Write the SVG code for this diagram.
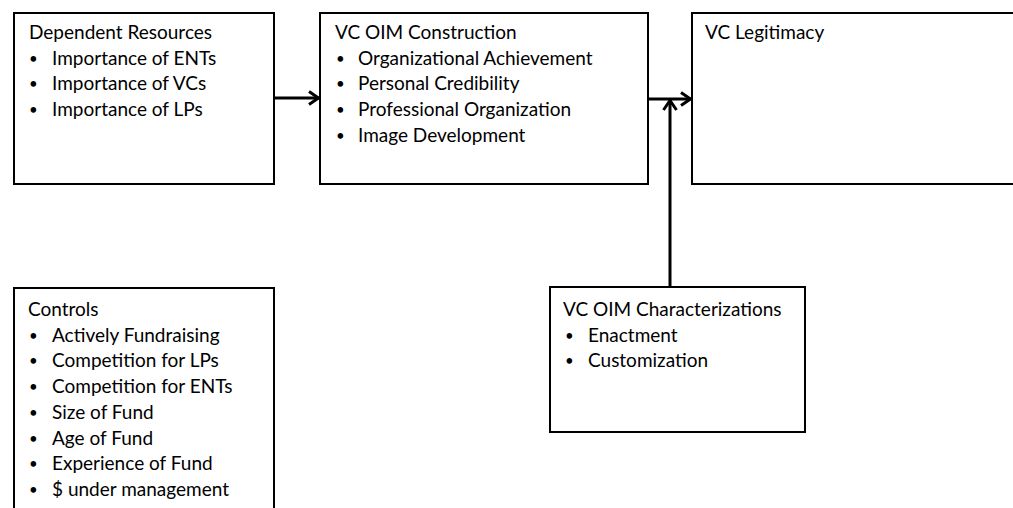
<svg xmlns="http://www.w3.org/2000/svg" width="1013" height="508" viewBox="0 0 1013 508">
<style>
.box{fill:#fff;stroke:#000;stroke-width:2}
text{font-family:Lato,"Open Sans","Liberation Sans",sans-serif;font-size:19px;fill:#000}
.b{font-size:15px}
.con{stroke:#000;stroke-width:3;fill:none}
</style>
<defs>
<marker id="arr" viewBox="0 0 12 16" refX="11" refY="8" markerWidth="12" markerHeight="16" orient="auto" markerUnits="userSpaceOnUse">
<path d="M1,1.5 L10.5,8 L1,14.5" fill="none" stroke="#000" stroke-width="3"/>
</marker>
</defs>
<rect width="1013" height="508" fill="#fff"/>
<g id="connectors">
<line class="con" x1="274" y1="98" x2="319" y2="98" marker-end="url(#arr)"/>
<line class="con" x1="648" y1="99" x2="691" y2="99" marker-end="url(#arr)"/>
<line class="con" x1="670" y1="287" x2="670" y2="100" marker-end="url(#arr)"/>
</g>
<g id="dependent-resources">
<rect class="box" x="14" y="13" width="260" height="171"/>
<text x="29" y="39">Dependent Resources</text>
<text class="b" x="29" y="63.7">•</text><text x="52" y="64.7">Importance of ENTs</text>
<text class="b" x="29" y="89.4">•</text><text x="52" y="90.4">Importance of VCs</text>
<text class="b" x="29" y="115.1">•</text><text x="52" y="116.1">Importance of LPs</text>
</g>
<g id="vc-oim-construction">
<rect class="box" x="320" y="13" width="328" height="171"/>
<text x="335" y="39">VC OIM Construction</text>
<text class="b" x="336" y="63.7">•</text><text x="358" y="64.7">Organizational Achievement</text>
<text class="b" x="336" y="89.4">•</text><text x="358" y="90.4">Personal Credibility</text>
<text class="b" x="336" y="115.1">•</text><text x="358" y="116.1">Professional Organization</text>
<text class="b" x="336" y="140.8">•</text><text x="358" y="141.8">Image Development</text>
</g>
<g id="vc-legitimacy">
<rect class="box" x="692" y="13" width="340" height="171"/>
<text x="705" y="39">VC Legitimacy</text>
</g>
<g id="vc-oim-characterizations">
<rect class="box" x="550" y="287" width="255" height="145"/>
<text x="563" y="316">VC OIM Characterizations</text>
<text class="b" x="565" y="340.7">•</text><text x="588" y="341.7">Enactment</text>
<text class="b" x="565" y="366.4">•</text><text x="588" y="367.4">Customization</text>
</g>
<g id="controls">
<rect class="box" x="14" y="288" width="260" height="240"/>
<text x="28" y="316">Controls</text>
<text class="b" x="29" y="340.7">•</text><text x="52" y="341.7">Actively Fundraising</text>
<text class="b" x="29" y="366.4">•</text><text x="52" y="367.4">Competition for LPs</text>
<text class="b" x="29" y="392.1">•</text><text x="52" y="393.1">Competition for ENTs</text>
<text class="b" x="29" y="417.8">•</text><text x="52" y="418.8">Size of Fund</text>
<text class="b" x="29" y="443.5">•</text><text x="52" y="444.5">Age of Fund</text>
<text class="b" x="29" y="469.2">•</text><text x="52" y="470.2">Experience of Fund</text>
<text class="b" x="29" y="494.9">•</text><text x="52" y="495.9">$ under management</text>
</g>
</svg>
